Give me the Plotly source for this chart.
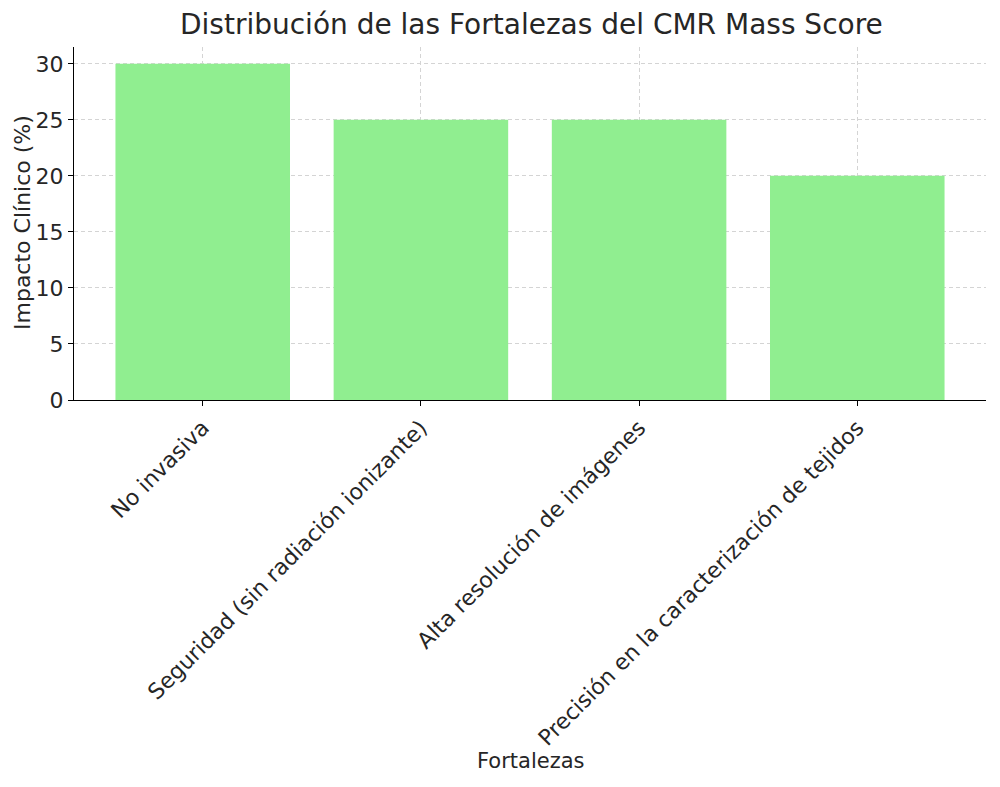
import plotly.graph_objects as go

categorias = ["No invasiva", "Seguridad (sin radiación ionizante)",
              "Alta resolución de imágenes", "Precisión en la caracterización de tejidos"]
impacto = [30, 25, 25, 20]
y_ticks = [0, 5, 10, 15, 20, 25, 30]

fig = go.Figure(go.Bar(x=list(range(len(categorias))), y=impacto, width=0.8,
                       marker=dict(color="#90EE90", line=dict(width=0))))

font = "DejaVu Sans, sans-serif"
txt = "#262626"
fig.update_layout(
    width=1000, height=787,
    margin=dict(l=74, r=14, t=47, b=387),
    paper_bgcolor="white", plot_bgcolor="white",
    font=dict(family=font, color=txt),
    showlegend=False,
)

fig.add_annotation(text="Distribución de las Fortalezas del CMR Mass Score", xref="paper", yref="paper",
                   x=(531 - 74) / 912, y=1 + (47 - 24) / 353, showarrow=False,
                   font=dict(size=28, family=font, color=txt), xanchor="center", yanchor="middle")
fig.add_annotation(text="Fortalezas", xref="paper", yref="paper",
                   x=(531 - 74) / 912, y=-(761 - 400) / 353, showarrow=False,
                   font=dict(size=21, family=font, color=txt), xanchor="center", yanchor="middle")
fig.add_annotation(text="Impacto Clínico (%)", xref="paper", yref="paper",
                   x=-(74 - 22) / 912, y=(400 - 223) / 353, showarrow=False, textangle=-90,
                   font=dict(size=22, family=font, color=txt), xanchor="center", yanchor="middle")

fig.update_xaxes(range=[-0.59, 3.59], tickmode="array", tickvals=list(range(len(categorias))),
                 ticktext=categorias, tickangle=-45, tickfont=dict(size=22, family=font, color=txt),
                 showline=True, linecolor="black", linewidth=1.3,
                 ticks="outside", ticklen=5, tickcolor="black",
                 showgrid=True, gridcolor="#d4d4d4", griddash="4px,3px", gridwidth=0.8, zeroline=False)
fig.update_yaxes(range=[0, 31.5], tickmode="array", tickvals=y_ticks,
                 tickfont=dict(size=22, family=font, color=txt),
                 showline=True, linecolor="black", linewidth=1.3,
                 ticks="outside", ticklen=5, tickcolor="black",
                 showgrid=True, gridcolor="#d4d4d4", griddash="4px,3px", gridwidth=0.8, zeroline=False)

fig.write_html("out.html")
